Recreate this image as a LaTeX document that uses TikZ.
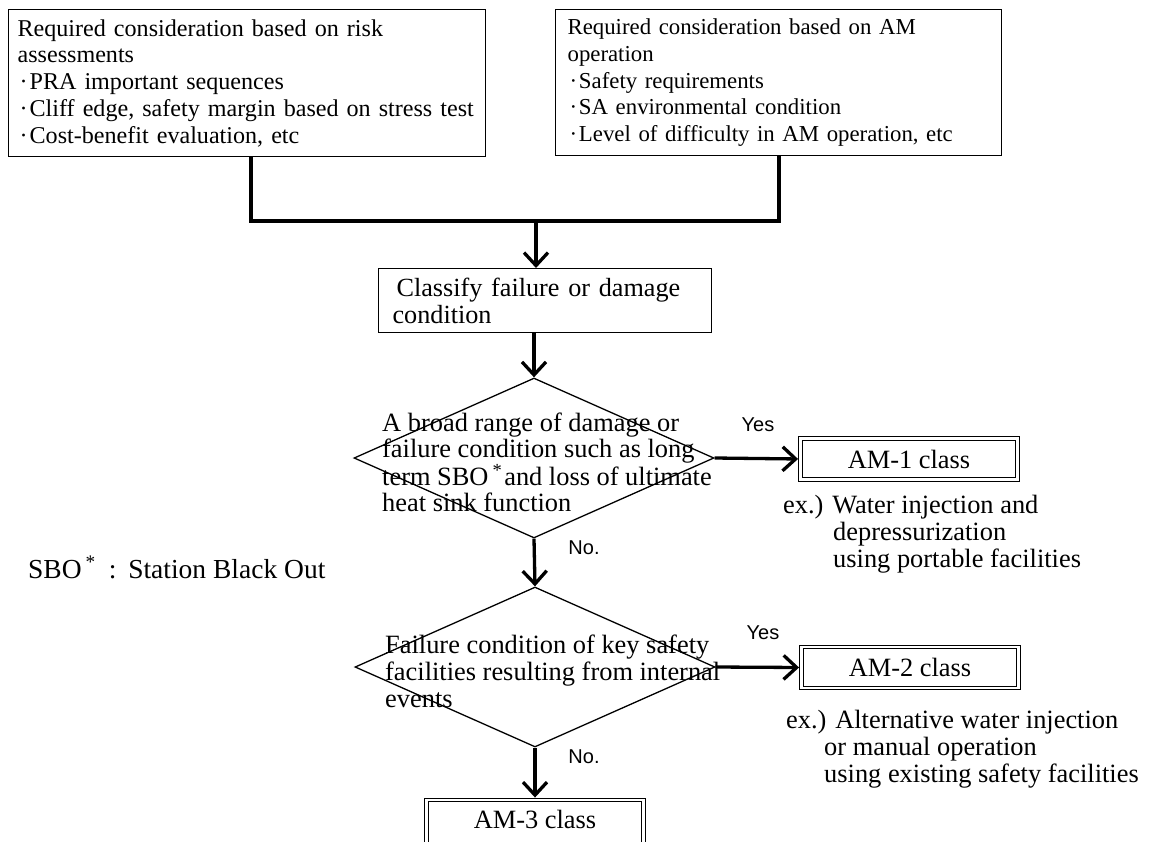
\documentclass[tikz,border=0pt]{standalone}
\usepackage{fontspec}
\setmainfont{Liberation Serif}
\newfontfamily\arialf{Liberation Sans}
\usetikzlibrary{arrows.meta,shapes.geometric}
\newcommand{\fsz}[2]{\fontsize{#1}{#2}\selectfont}
\newcommand{\bul}{\makebox[0.5em]{\textperiodcentered}}
\begin{document}
\begin{tikzpicture}[x=1pt,y=-1pt,
  box/.style={draw, line width=1.2pt, align=left, inner ysep=0pt, anchor=north west},
  conn/.style={line width=3.8pt},
  arr/.style={line width=3.3pt, -{Straight Barb[length=13pt,width=24pt]}},
  dbox/.style={draw, double, double distance=2.4pt, line width=0.9pt, minimum width=217pt, minimum height=41pt, inner sep=0pt, font=\fsz{26.4}{27}},
  dia/.style={draw, diamond, line width=1.3pt, inner sep=0pt, minimum width=360pt, minimum height=160pt},
  dtext/.style={anchor=north west, align=left, inner sep=0pt},
  yn/.style={font=\arialf\fsz{20}{22}, inner sep=0pt}]
\useasboundingbox (0,0) rectangle (1151,841);
\fill[white] (0,0) rectangle (1151,841);

\node[box, minimum width=477pt, minimum height=147pt, text width=459pt, inner xsep=9pt, font=\fsz{24.1}{26.7}] (tl) at (8,9)
  {Required consideration based on risk\\assessments\\\bul PRA important sequences\\\mbox{\bul Cliff edge, safety margin based on stress test}\\\bul Cost-benefit evaluation, etc};
\node[box, minimum width=446pt, minimum height=146pt, text width=422pt, inner xsep=12pt, font=\fsz{22.8}{26.7}] (tr) at (555,9)
  {Required consideration based on AM\\operation\\\bul Safety requirements\\\bul SA environmental condition\\\mbox{\bul Level of difficulty in AM operation, etc}};

\node[box, minimum width=333pt, minimum height=64pt, text width=305pt, inner xsep=14pt, font=\fsz{26.2}{27}] (cls) at (378,268)
  {\hspace*{4pt}Classify failure or damage\\condition};

\node[dia] (d1) at (534,458) {};
\node[dtext, font=\fsz{26.4}{26}] (t1) at (382,413)
  {A broad range of damage or\\failure condition such as long\\term SBO\hspace{4pt}\textsuperscript{*}\hspace{2pt}and loss of ultimate\\heat sink function};

\node[dia] (d2) at (535,667) {};
\node[dtext, font=\fsz{26.4}{27}] (t2) at (385,635)
  {Failure condition of key safety\\facilities resulting from internal\\events};

\node[dbox] (am1) at (909,459) {AM-1 class};
\node[dbox] (am2) at (910,667.5) {AM-2 class};
\node[dbox, minimum height=49pt, text depth=10pt] (am3) at (535,824.5) {AM-3 class};

\node[dtext, font=\fsz{26.4}{27}] (ex1) at (783,495)
  {ex.) Water injection and\\\hspace*{50pt}depressurization\\\hspace*{50pt}using portable facilities};
\node[dtext, font=\fsz{26.4}{27}] (ex2) at (786,710)
  {ex.) Alternative water injection\\\hspace*{38pt}or manual operation\\\hspace*{38pt}using existing safety facilities};

\node[yn] (y1) at (758,425) {Yes};
\node[yn] (y2) at (763,633) {Yes};
\node[yn] (n1) at (584,548) {No.};
\node[yn] (n2) at (584,757) {No.};

\node[anchor=base west, inner sep=0pt, font=\fsz{27.5}{30}] (sbo) at (28,578)
  {SBO\hspace{4pt}\textsuperscript{*}\hspace{3pt}\makebox[1em]{:}\hspace{2pt}Station Black Out};

\coordinate (j) at (536,221);
\draw[conn] ([xshift=3.5pt]tl.south) |- (j) -| (tr.south);
\draw[arr] (j) -- (j |- cls.north);
\draw[arr] (cls.south -| d1.north) -- (d1.north);
\draw[arr, shorten >=2pt] (d1.east) -- (am1.west);
\draw[arr] (d1.south) -- (d2.north);
\draw[arr, shorten >=2pt] (d2.east) -- (am2.west);
\draw[arr, shorten >=2pt] (d2.south) -- (am3.north);
\end{tikzpicture}
\end{document}
